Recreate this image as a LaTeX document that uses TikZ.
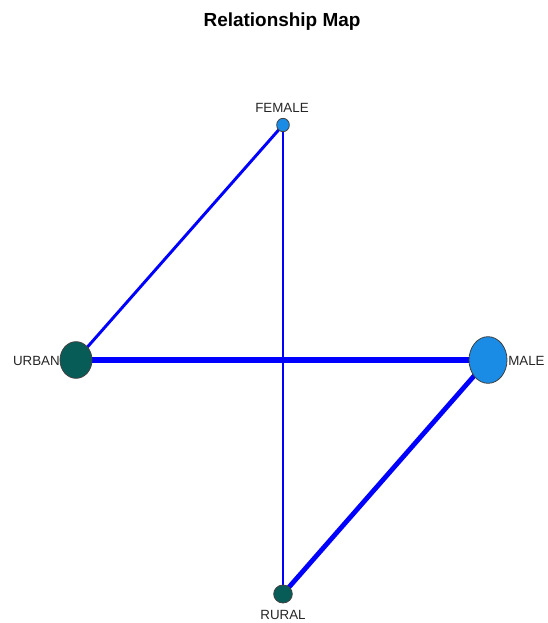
\documentclass[tikz,border=0pt]{standalone}
\usepackage{fontspec}
\setmainfont{Liberation Sans}
\usetikzlibrary{shapes.geometric,backgrounds}
\definecolor{edgeblue}{RGB}{0,0,255}
\definecolor{tealnode}{RGB}{8,92,88}
\definecolor{bluenode}{RGB}{26,140,230}
\tikzset{
  cat/.style={ellipse, draw=black!75, line width=0.6pt, inner sep=0pt},
  lbl/.style={font=\fontsize{10}{12}\selectfont, text=black!85, inner sep=0pt},
  edge/.style={draw=edgeblue}
}
\begin{document}
\begin{tikzpicture}[x=0.75pt,y=-0.75pt]
\useasboundingbox (0,0) rectangle (547,623);
\node[font=\bfseries\fontsize{14.2}{16}\selectfont, inner sep=0pt] (title) at (282,22) {Relationship Map};
\node[cat, fill=bluenode, minimum width=9.5pt, minimum height=10pt] (female) at (283,125) {};
\node[cat, fill=tealnode, minimum width=24pt, minimum height=27.5pt] (urban) at (76,360) {};
\node[cat, fill=bluenode, minimum width=28.5pt, minimum height=35pt] (male) at (488,360) {};
\node[cat, fill=tealnode, minimum width=14pt, minimum height=13.5pt] (rural) at (283,594) {};
\node[lbl] (lf) at (282,108) {FEMALE};
\node[lbl, anchor=east] (lu) at (60,361) {URBAN};
\node[lbl, anchor=west] (lm) at (508,361) {MALE};
\node[lbl] (lr) at (283,615) {RURAL};
\begin{scope}[on background layer]
\draw[edge, line width=4.8pt] (urban.center) -- (male.center);
\draw[edge, line width=2.2pt] (female.center) -- (urban.center);
\draw[edge, line width=3.6pt] (male.center) -- (rural.center);
\draw[edge, line width=0.8pt] (female.center) -- (rural.center);
\end{scope}
\end{tikzpicture}
\end{document}
